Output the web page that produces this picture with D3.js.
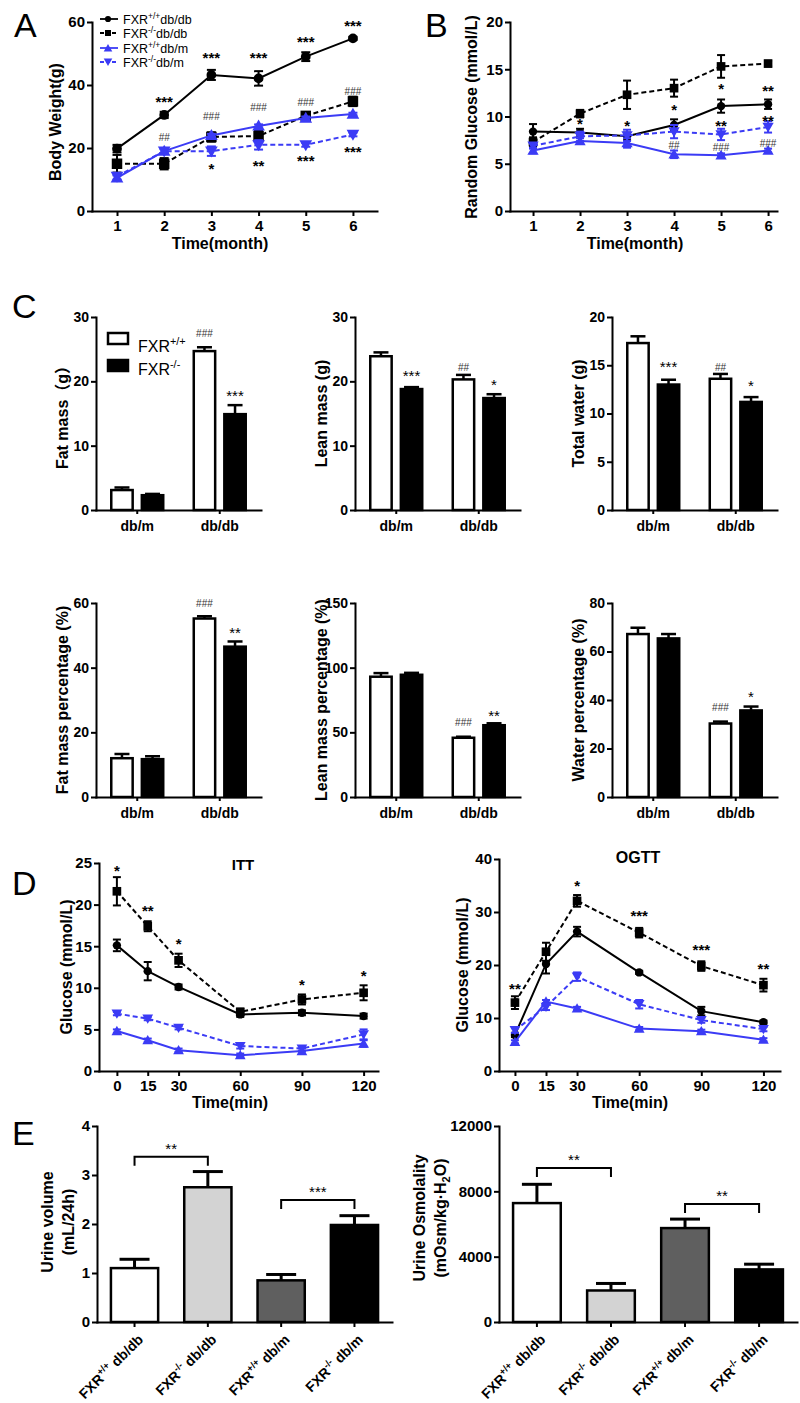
<!DOCTYPE html>
<html>
<head>
<meta charset="utf-8">
<script src="https://cdn.jsdelivr.net/npm/d3@7"></script>
<style>
  body { margin: 0; background: #fff; }
  svg { font-family: Arial, "Liberation Sans", Helvetica, "Noto Sans CJK SC", sans-serif; }
</style>
</head>
<body>
<svg id="fig" width="800" height="1403"></svg>
<script>
// ---------- data ----------
// A: body weight (g) by month
const months = [1, 2, 3, 4, 5, 6];
const bwWtDbdb = [19.8, 30.5, 43.2, 42.1, 49.0, 54.8];
const bwWtDbdbSe = [1.2, 1.0, 1.6, 2.3, 1.4, 0.5];
const bwKoDbdb = [15.0, 15.0, 23.5, 23.8, 30.2, 34.8];
const bwKoDbdbSe = [2.8, 1.8, 1.5, 1.8, 0.8, 1.5];
const bwWtDbm = [10.5, 19.0, 24.0, 27.0, 29.5, 30.8];
const bwWtDbmSe = [0.8, 0.6, 0.5, 0.5, 0.5, 0.4];
const bwKoDbm = [11.0, 19.0, 19.0, 21.0, 21.0, 24.3];
const bwKoDbmSe = [1.0, 0.8, 1.5, 1.5, 0.6, 0.6];
const bwSig = [
  ['***', 2, 36], ['***', 3, 50], ['***', 4, 50], ['***', 5, 55], ['***', 6, 60],
  ['##', 2, 23.5], ['###', 3, 30], ['###', 4, 33], ['###', 5, 34.6], ['###', 6, 38],
  ['*', 3, 14.6], ['**', 4, 15.5], ['***', 5, 17], ['***', 6, 20]
];

// B: random glucose (mmol/L)
const bgWtDbdb = [8.4, 8.3, 7.9, 9.1, 11.1, 11.3];
const bgWtDbdbSe = [0.8, 0.4, 0.4, 0.6, 0.7, 0.5];
const bgKoDbdb = [7.3, 10.3, 12.3, 13.0, 15.3, 15.6];
const bgKoDbdbSe = [0.5, 0.4, 1.5, 0.9, 1.2, 0.3];
const bgWtDbm = [6.4, 7.4, 7.2, 6.0, 5.9, 6.4];
const bgWtDbmSe = [0.3, 0.3, 0.5, 0.4, 0.2, 0.2];
const bgKoDbm = [6.9, 7.9, 8.0, 8.4, 8.1, 8.9];
const bgKoDbmSe = [0.3, 0.5, 0.6, 0.7, 0.6, 0.6];
const bgSig = [
  ['*', 2, 9.6], ['*', 3, 9.4], ['*', 4, 11.1], ['##', 4, 6.9],
  ['*', 5, 13.3], ['**', 5, 9.4], ['###', 5, 6.7],
  ['**', 6, 13.1], ['**', 6, 10.0], ['###', 6, 7.2]
];

// C: body composition, [db/m, db/db]
const cGroups = ['db/m', 'db/db'];
const fatMassWt = [3.1, 24.7], fatMassWtSe = [0.4, 0.6];
const fatMassKo = [2.3, 14.9], fatMassKoSe = [0.2, 1.4];
const fatMassSig = [['###', 1, 0, 27.5], ['***', 1, 1, 18.4]];
const leanMassWt = [23.9, 20.3], leanMassWtSe = [0.6, 0.7];
const leanMassKo = [18.8, 17.4], leanMassKoSe = [0.3, 0.6];
const leanMassSig = [['***', 0, 1, 21.4], ['##', 1, 0, 22.1], ['*', 1, 1, 20.0]];
const waterWt = [17.3, 13.6], waterWtSe = [0.7, 0.5];
const waterKo = [13.0, 11.2], waterKoSe = [0.5, 0.5];
const waterSig = [['***', 0, 1, 15.2], ['##', 1, 0, 14.8], ['*', 1, 1, 13.3]];
const fatPctWt = [12.0, 55.2], fatPctWtSe = [1.3, 0.7];
const fatPctKo = [11.7, 46.5], fatPctKoSe = [0.9, 1.6];
const fatPctSig = [['###', 1, 0, 60], ['**', 1, 1, 52]];
const leanPctWt = [93.0, 45.8], leanPctWtSe = [2.8, 0.8];
const leanPctKo = [94.5, 55.5], leanPctKoSe = [1.5, 1.5];
const leanPctSig = [['###', 1, 0, 58], ['**', 1, 1, 66]];
const waterPctWt = [67.2, 30.3], waterPctWtSe = [2.6, 0.8];
const waterPctKo = [65.4, 35.7], waterPctKoSe = [1.8, 1.6];
const waterPctSig = [['###', 1, 0, 37], ['*', 1, 1, 43]];

// D: ITT / OGTT glucose (mmol/L)
const minutes = [0, 15, 30, 60, 90, 120];
const ittWtDbdb = [15.1, 12.0, 10.1, 6.8, 7.0, 6.6];
const ittWtDbdbSe = [0.7, 1.1, 0.3, 0.3, 0.3, 0.3];
const ittKoDbdb = [21.6, 17.4, 13.3, 7.1, 8.6, 9.4];
const ittKoDbdbSe = [1.7, 0.6, 0.8, 0.4, 0.6, 0.9];
const ittWtDbm = [4.8, 3.7, 2.5, 1.9, 2.4, 3.3];
const ittWtDbmSe = [0.2, 0.2, 0.2, 0.2, 0.3, 0.4];
const ittKoDbm = [6.9, 6.3, 5.2, 3.0, 2.7, 4.4];
const ittKoDbmSe = [0.2, 0.2, 0.2, 0.3, 0.3, 0.6];
const ittSig = [['*', 0, 24.5], ['**', 15, 19.7], ['*', 30, 15.8], ['*', 90, 10.8], ['*', 120, 11.9]];

const ogttWtDbdb = [6.8, 20.2, 26.3, 18.6, 11.3, 9.2];
const ogttWtDbdbSe = [0.4, 1.8, 0.9, 0.3, 0.8, 0.3];
const ogttKoDbdb = [12.9, 22.5, 32.1, 26.1, 19.8, 16.2];
const ogttKoDbdbSe = [1.2, 1.7, 1.1, 0.9, 0.9, 1.2];
const ogttWtDbm = [5.5, 13.1, 11.8, 8.0, 7.5, 5.9];
const ogttWtDbmSe = [0.3, 0.3, 0.3, 0.3, 0.3, 0.3];
const ogttKoDbm = [7.7, 12.1, 17.8, 12.6, 9.6, 7.9];
const ogttKoDbmSe = [0.5, 0.6, 0.8, 0.8, 0.5, 0.4];
const ogttSig = [['**', 0, 16.2], ['*', 30, 35.7], ['***', 60, 30], ['***', 90, 23.6], ['**', 120, 20]];

// E: urine
const eGeno = ['+/+', '-/-', '+/+', '-/-'];
const eStrain = ['db/db', 'db/db', 'db/m', 'db/m'];
const eFill = ['#ffffff', '#d3d3d3', '#5f5f5f', '#000000'];
const urineVol = [1.10, 2.75, 0.85, 1.98];
const urineVolSe = [0.18, 0.32, 0.12, 0.19];
const urineVolBrackets = [[0, 1, 3.37, '**'], [2, 3, 2.49, '***']];
const urineOsm = [7280, 1930, 5750, 3220];
const urineOsmSe = [1150, 430, 550, 320];
const urineOsmBrackets = [[0, 1, 9430, '**'], [2, 3, 7220, '**']];

// ---------- drawing ----------
const svg = d3.select('#fig');
const FONT = 'Arial, "Liberation Sans", Helvetica, "Noto Sans CJK SC", sans-serif';
const blue = '#3b3bf5';
const intFmt = d3.format('d');
const seriesStyle = [
  { color: '#000', dash: null, shape: 'circle' },
  { color: '#000', dash: '5,3', shape: 'square' },
  { color: blue, dash: null, shape: 'up' },
  { color: blue, dash: '5,3', shape: 'down' }
];

function symbolPath(shape, sz) {
  const type = shape === 'circle' ? d3.symbolCircle : shape === 'square' ? d3.symbolSquare : d3.symbolTriangle;
  const size = shape === 'circle' ? sz.circle : shape === 'square' ? sz.square : sz.tri;
  return d3.symbol().type(type).size(size)();
}

function drawSymbol(g, shape, sz, cx, cy, color) {
  const rot = shape === 'down' ? ' rotate(180)' : '';
  const dy = shape === 'up' ? 1 : shape === 'down' ? -1 : 0;
  g.append('path').attr('d', symbolPath(shape, sz))
    .attr('transform', `translate(${cx},${cy + dy})${rot}`)
    .attr('fill', color);
}

function styleAxis(sel, fs) {
  sel.attr('font-family', FONT).attr('font-size', fs).attr('font-weight', 'bold');
  sel.select('.domain').attr('stroke-width', 2).attr('stroke-linecap', 'square');
  sel.selectAll('.tick line').attr('stroke-width', 2);
  sel.selectAll('.tick text').attr('fill', '#000');
}

function sigLabel(g, label, x, yPix, o) {
  const star = label[0] === '*';
  const fs = star ? o.star : o.hash;
  g.append('text').attr('x', x).attr('y', yPix + fs * (star ? 0.6 : 0.36))
    .attr('text-anchor', 'middle').attr('font-size', fs)
    .attr('font-weight', star ? (o.starWeight || 'bold') : 'normal')
    .attr('fill', star ? '#000' : '#333').text(label);
}

function yTitle(lines, x, y, fs) {
  const t = svg.append('g').attr('transform', `translate(${x},${y}) rotate(-90)`)
    .append('text').attr('text-anchor', 'middle').attr('font-size', fs).attr('font-weight', 'bold');
  lines.forEach((ln, i) => {
    const span = t.append('tspan').attr('x', 0).attr('dy', i === 0 ? 0 : fs * 1.3);
    if (typeof ln === 'string') span.text(ln);
    else ln(t, span);
  });
  return t;
}

function plainText(str, x, y, fs, weight, anchor) {
  return svg.append('text').attr('x', x).attr('y', y).attr('font-size', fs)
    .attr('font-weight', weight || 'bold').attr('text-anchor', anchor || 'middle').text(str);
}

function fxr(textSel, geno, rest, fs) {
  textSel.append('tspan').text('FXR');
  textSel.append('tspan').attr('font-size', fs * 0.68).attr('dy', -fs * 0.42).text(geno);
  textSel.append('tspan').attr('dy', fs * 0.42).text(rest);
}

function linePanel(p) {
  const g = svg.append('g');
  const x = d3.scaleLinear().domain(p.xDomain).range([p.left, p.right]);
  const y = d3.scaleLinear().domain(p.yDomain).range([p.bottom, p.top]);

  g.append('g').attr('transform', `translate(0,${p.bottom})`)
    .call(d3.axisBottom(x).tickValues(p.xTicks).tickFormat(intFmt).tickSize(5).tickSizeOuter(0).tickPadding(p.xPad))
    .call(s => styleAxis(s, p.tickFs));
  g.append('g').attr('transform', `translate(${p.left},0)`)
    .call(d3.axisLeft(y).tickValues(p.yTicks).tickFormat(intFmt).tickSize(5).tickSizeOuter(0).tickPadding(2))
    .call(s => styleAxis(s, p.tickFs));

  p.means.forEach((m, i) => {
    const st = seriesStyle[i];
    const se = p.ses[i];
    const pts = p.xVals.map((t, k) => [t, m[k], se[k]]);
    g.append('path').datum(pts)
      .attr('d', d3.line().x(d => x(d[0])).y(d => y(d[1])))
      .attr('fill', 'none').attr('stroke', st.color).attr('stroke-width', 2)
      .attr('stroke-dasharray', st.dash);
    pts.forEach(d => {
      const cx = x(d[0]);
      const y1 = y(d[1] + d[2]), y0 = y(d[1] - d[2]);
      g.append('line').attr('x1', cx).attr('x2', cx).attr('y1', y0).attr('y2', y1)
        .attr('stroke', st.color).attr('stroke-width', 2);
      [y0, y1].forEach(yy => g.append('line')
        .attr('x1', cx - p.cap / 2).attr('x2', cx + p.cap / 2).attr('y1', yy).attr('y2', yy)
        .attr('stroke', st.color).attr('stroke-width', 2));
      drawSymbol(g, st.shape, p.sym, cx, y(d[1]), st.color);
    });
  });

  p.sig.forEach(([lab, t, v]) => sigLabel(g, lab, x(t), y(v), p.sigFs));
  return { x, y };
}

function barPanel(p) {
  const g = svg.append('g');
  const xg = d3.scaleBand().domain(cGroups).range([p.left, p.left + 165])
    .paddingInner(0.37).paddingOuter(0.185);
  const xs = d3.scaleBand().domain([0, 1]).range([0, xg.bandwidth()]).paddingInner(0.3);
  const y = d3.scaleLinear().domain(p.yDomain).range([p.bottom, p.top]);

  const xAx = g.append('g').attr('transform', `translate(0,${p.bottom})`)
    .call(d3.axisBottom(xg).tickSize(4).tickSizeOuter(0).tickPadding(4))
    .call(s => styleAxis(s, 14));
  xAx.selectAll('.tick text').attr('dy', '0.95em');
  g.append('g').attr('transform', `translate(${p.left},0)`)
    .call(d3.axisLeft(y).tickValues(p.yTicks).tickFormat(intFmt).tickSize(5).tickSizeOuter(0).tickPadding(2))
    .call(s => styleAxis(s, 14));

  const sets = [[p.wt, p.wtSe, '#fff'], [p.ko, p.koSe, '#000']];
  cGroups.forEach((grp, gi) => {
    sets.forEach(([m, se, fill], k) => {
      const bx = xg(grp) + xs(k), bw = xs.bandwidth();
      const cx = bx + bw / 2;
      const yt = y(m[gi] + se[gi]);
      g.append('line').attr('x1', cx).attr('x2', cx).attr('y1', y(m[gi])).attr('y2', yt)
        .attr('stroke', '#000').attr('stroke-width', 2.5);
      g.append('line').attr('x1', cx - 7.5).attr('x2', cx + 7.5).attr('y1', yt).attr('y2', yt)
        .attr('stroke', '#000').attr('stroke-width', 2.5);
      g.append('rect').attr('x', bx).attr('y', y(m[gi])).attr('width', bw)
        .attr('height', p.bottom - y(m[gi]))
        .attr('fill', fill).attr('stroke', '#000').attr('stroke-width', 2.5);
    });
  });
  p.sig.forEach(([lab, gi, k, v]) =>
    sigLabel(g, lab, xg(cGroups[gi]) + xs(k) + xs.bandwidth() / 2, y(v),
      { star: 15, hash: 10, starWeight: 'normal' }));
  yTitle([p.title], p.left - 28, (p.top + p.bottom) / 2, 16);
}

function urinePanel(p) {
  const g = svg.append('g');
  const idx = d3.range(p.means.length);
  const x = d3.scaleBand().domain(idx).range([p.left, p.left + p.width])
    .paddingInner(0.356).paddingOuter(0.19);
  const y = d3.scaleLinear().domain(p.yDomain).range([p.bottom, p.top]);

  g.append('g').attr('transform', `translate(0,${p.bottom})`)
    .call(d3.axisBottom(x).tickSize(5).tickSizeOuter(0).tickFormat(''))
    .call(s => styleAxis(s, 14));
  g.append('g').attr('transform', `translate(${p.left},0)`)
    .call(d3.axisLeft(y).tickValues(p.yTicks).tickFormat(intFmt).tickSize(5).tickSizeOuter(0).tickPadding(2))
    .call(s => styleAxis(s, 15));

  idx.forEach(i => {
    const bx = x(i), bw = x.bandwidth(), cx = bx + bw / 2;
    const yt = y(p.means[i] + p.ses[i]);
    g.append('line').attr('x1', cx).attr('x2', cx).attr('y1', y(p.means[i])).attr('y2', yt)
      .attr('stroke', '#000').attr('stroke-width', 3);
    g.append('line').attr('x1', cx - 15).attr('x2', cx + 15).attr('y1', yt).attr('y2', yt)
      .attr('stroke', '#000').attr('stroke-width', 3);
    g.append('rect').attr('x', bx).attr('y', y(p.means[i])).attr('width', bw)
      .attr('height', p.bottom - y(p.means[i]))
      .attr('fill', eFill[i]).attr('stroke', '#000').attr('stroke-width', 2.5);
    const lx = cx + 6, ly = p.bottom + 15;
    const lab = g.append('text')
      .attr('x', lx).attr('y', ly)
      .attr('transform', `rotate(-45 ${lx} ${ly})`)
      .attr('text-anchor', 'end').attr('dy', '0.35em')
      .attr('font-size', 14).attr('font-weight', 'bold');
    fxr(lab, eGeno[i], ' ' + eStrain[i], 14);
  });

  p.brackets.forEach(([a, b, v, lab]) => {
    const xa = x(a) + x.bandwidth() / 2, xb = x(b) + x.bandwidth() / 2, yb = y(v);
    g.append('path').attr('d', `M${xa},${yb + 9}V${yb}H${xb}V${yb + 9}`)
      .attr('fill', 'none').attr('stroke', '#000').attr('stroke-width', 2);
    sigLabel(g, lab, (xa + xb) / 2, yb - 12, { star: 15, starWeight: 'normal' });
  });
}

// ---------- A ----------
plainText('A', 14, 37, 34, 'normal', 'start');
linePanel({
  left: 92, right: 377, top: 22, bottom: 211,
  xDomain: [0.47, 6.51], yDomain: [0, 60],
  xVals: months, xTicks: months, yTicks: [0, 20, 40, 60],
  means: [bwWtDbdb, bwKoDbdb, bwWtDbm, bwKoDbm],
  ses: [bwWtDbdbSe, bwKoDbdbSe, bwWtDbmSe, bwKoDbmSe],
  sig: bwSig, sym: { circle: 75, square: 110, tri: 70 }, cap: 9,
  tickFs: 15, xPad: 4, sigFs: { star: 15, hash: 10 }
});
yTitle(['Body Weight(g)'], 61, 122, 16);
plainText('Time(month)', 220, 249, 16);

// legend
const legendRows = [19, 33, 48, 62];
const legendGeno = ['+/+', '-/-', '+/+', '-/-'];
const legendStrain = ['db/db', 'db/db', 'db/m', 'db/m'];
legendRows.forEach((ly, i) => {
  const st = seriesStyle[i];
  svg.append('line').attr('x1', 100).attr('x2', 118).attr('y1', ly).attr('y2', ly)
    .attr('stroke', st.color).attr('stroke-width', 1.8).attr('stroke-dasharray', st.dash ? '4,2' : null);
  drawSymbol(svg, st.shape, { circle: 30, square: 36, tri: 32 }, 108, ly, st.color);
  const t = svg.append('text').attr('x', 123).attr('y', ly + 5).attr('font-size', 12.5);
  fxr(t, legendGeno[i], legendStrain[i], 12.5);
});

// ---------- B ----------
plainText('B', 425, 37, 34, 'normal', 'start');
linePanel({
  left: 510, right: 777, top: 22, bottom: 211,
  xDomain: [0.51, 6.19], yDomain: [0, 20],
  xVals: months, xTicks: months, yTicks: [0, 5, 10, 15, 20],
  means: [bgWtDbdb, bgKoDbdb, bgWtDbm, bgKoDbm],
  ses: [bgWtDbdbSe, bgKoDbdbSe, bgWtDbmSe, bgKoDbmSe],
  sig: bgSig, sym: { circle: 55, square: 75, tri: 55 }, cap: 8,
  tickFs: 15, xPad: 4, sigFs: { star: 15, hash: 10 }
});
yTitle(['Random Glucose (mmol/L)'], 477, 117, 16);
plainText('Time(month)', 635, 249, 16);

// ---------- C ----------
plainText('C', 12, 318, 34, 'normal', 'start');
barPanel({ left: 96, top: 317, bottom: 510, yDomain: [0, 30], yTicks: [0, 10, 20, 30],
  wt: fatMassWt, wtSe: fatMassWtSe, ko: fatMassKo, koSe: fatMassKoSe, sig: fatMassSig, title: 'Fat mass（g）' });
barPanel({ left: 355, top: 317, bottom: 510, yDomain: [0, 30], yTicks: [0, 10, 20, 30],
  wt: leanMassWt, wtSe: leanMassWtSe, ko: leanMassKo, koSe: leanMassKoSe, sig: leanMassSig, title: 'Lean mass (g)' });
barPanel({ left: 612, top: 317, bottom: 510, yDomain: [0, 20], yTicks: [0, 5, 10, 15, 20],
  wt: waterWt, wtSe: waterWtSe, ko: waterKo, koSe: waterKoSe, sig: waterSig, title: 'Total water (g)' });
barPanel({ left: 96, top: 603, bottom: 797, yDomain: [0, 60], yTicks: [0, 20, 40, 60],
  wt: fatPctWt, wtSe: fatPctWtSe, ko: fatPctKo, koSe: fatPctKoSe, sig: fatPctSig, title: 'Fat mass percentage (%)' });
barPanel({ left: 355, top: 603, bottom: 797, yDomain: [0, 150], yTicks: [0, 50, 100, 150],
  wt: leanPctWt, wtSe: leanPctWtSe, ko: leanPctKo, koSe: leanPctKoSe, sig: leanPctSig, title: 'Lean mass percentage (%)' });
barPanel({ left: 612, top: 603, bottom: 797, yDomain: [0, 80], yTicks: [0, 20, 40, 60, 80],
  wt: waterPctWt, wtSe: waterPctWtSe, ko: waterPctKo, koSe: waterPctKoSe, sig: waterPctSig, title: 'Water percentage (%)' });

// legend C
[['#fff', 333, '+/+', 352], ['#000', 360, '-/-', 375]].forEach(([fill, ry, geno, ty]) => {
  svg.append('rect').attr('x', 108).attr('y', ry).attr('width', 20).attr('height', 11)
    .attr('fill', fill).attr('stroke', '#000').attr('stroke-width', 2.5);
  const t = svg.append('text').attr('x', 138).attr('y', ty).attr('font-size', 16);
  fxr(t, geno, '', 16);
});

// ---------- D ----------
plainText('D', 12, 895, 34, 'normal', 'start');
linePanel({
  left: 99, right: 378, top: 863, bottom: 1071,
  xDomain: [-8.7, 127], yDomain: [0, 25],
  xVals: minutes, xTicks: minutes, yTicks: [0, 5, 10, 15, 20, 25],
  means: [ittWtDbdb, ittKoDbdb, ittWtDbm, ittKoDbm],
  ses: [ittWtDbdbSe, ittKoDbdbSe, ittWtDbmSe, ittKoDbmSe],
  sig: ittSig, sym: { circle: 55, square: 75, tri: 50 }, cap: 8,
  tickFs: 15, xPad: 4, sigFs: { star: 15, hash: 10 }
});
plainText('ITT', 243, 870, 15);
yTitle(['Glucose (mmol/L)'], 72, 967, 16);
plainText('Time(min)', 230, 1108, 16);

linePanel({
  left: 499, right: 780, top: 859, bottom: 1071,
  xDomain: [-7.7, 128], yDomain: [0, 40],
  xVals: minutes, xTicks: minutes, yTicks: [0, 10, 20, 30, 40],
  means: [ogttWtDbdb, ogttKoDbdb, ogttWtDbm, ogttKoDbm],
  ses: [ogttWtDbdbSe, ogttKoDbdbSe, ogttWtDbmSe, ogttKoDbmSe],
  sig: ogttSig, sym: { circle: 55, square: 75, tri: 50 }, cap: 8,
  tickFs: 15, xPad: 4, sigFs: { star: 15, hash: 10 }
});
plainText('OGTT', 638, 863, 16);
yTitle(['Glucose (mmol/L)'], 468, 965, 16);
plainText('Time(min)', 630, 1108, 16);

// ---------- E ----------
plainText('E', 12, 1145, 34, 'normal', 'start');
urinePanel({ left: 97, width: 295, top: 1126, bottom: 1322, yDomain: [0, 4], yTicks: [0, 1, 2, 3, 4],
  means: urineVol, ses: urineVolSe, brackets: urineVolBrackets });
yTitle(['Urine volume', '(mL/24h)'], 53, 1222, 16);

urinePanel({ left: 499, width: 298, top: 1126, bottom: 1322, yDomain: [0, 12000], yTicks: [0, 4000, 8000, 12000],
  means: urineOsm, ses: urineOsmSe, brackets: urineOsmBrackets });
yTitle(['Urine Osmolality', (t, span) => {
  span.text('(mOsm/kg·H');
  t.append('tspan').attr('font-size', 11).attr('dy', 4).text('2');
  t.append('tspan').attr('dy', -4).text('O)');
}], 425, 1218, 16);
</script>
</body>
</html>
